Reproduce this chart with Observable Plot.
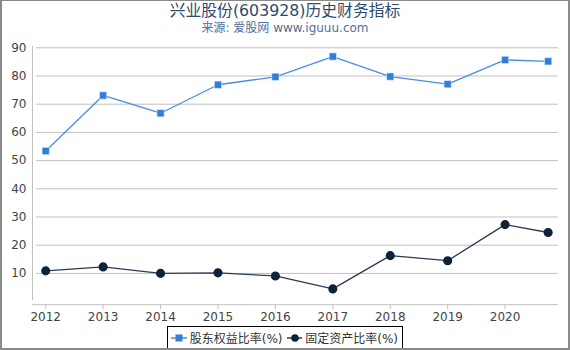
<!DOCTYPE html>
<html><head><meta charset="utf-8">
<script src="https://cdn.jsdelivr.net/npm/d3@7"></script>
<script src="https://cdn.jsdelivr.net/npm/@observablehq/plot@0.6"></script>
<style>
body{margin:0;width:570px;height:350px;position:relative;overflow:hidden;background:#fff;font-family:"DejaVu Sans","Noto Sans CJK SC",sans-serif;}
#frame{position:absolute;left:0;top:0;width:570px;height:350px;box-sizing:border-box;border:2px solid #8a8a8a;border-top-width:1px;pointer-events:none;}
#title{position:absolute;top:1px;left:0;width:570px;text-align:center;font-size:15.8px;line-height:20px;color:#2e4a6c;}
#subtitle{position:absolute;top:20px;left:0;width:570px;text-align:center;font-size:12px;line-height:16px;color:#4f709a;}
#chart{position:absolute;top:40px;left:0;}
#legend{position:absolute;top:326px;left:167px;width:236px;height:23px;box-sizing:border-box;border:1px solid #000;font-size:12px;color:#333;display:flex;align-items:center;padding-left:3px;white-space:nowrap;}
#legend svg{margin-right:3px;}
#legend span{margin-right:4px;}
</style>
</head><body>
<div id="title">兴业股份(603928)历史财务指标</div>
<div id="subtitle">来源: 爱股网 www.iguuu.com</div>
<div id="chart"></div>
<div id="legend"></div>
<div id="frame"></div>
<script>
const years = [2012, 2013, 2014, 2015, 2016, 2017, 2018, 2019, 2020, 2020.75];
const equityRatio = [53.4, 73.1, 66.8, 76.9, 79.7, 86.9, 79.8, 77.1, 85.7, 85.2];
const fixedAssetRatio = [10.9, 12.3, 10.0, 10.2, 9.1, 4.5, 16.3, 14.5, 27.3, 24.5];
const xTicks = [2012, 2013, 2014, 2015, 2016, 2017, 2018, 2019, 2020];
const yTicks = [10, 20, 30, 40, 50, 60, 70, 80, 90];
const seriesNames = ["股东权益比率(%)", "固定资产比率(%)"];
const colors = ["#2f7ed8", "#0d233a"];

const eq = years.map((x, i) => ({x, y: equityRatio[i]}));
const fa = years.map((x, i) => ({x, y: fixedAssetRatio[i]}));

const xDomain = [2011.77, 2020.93];
const plot = Plot.plot({
  width: 570, height: 285,
  marginLeft: 32, marginRight: 12, marginTop: 7.3, marginBottom: 20.8,
  style: {fontFamily: "DejaVu Sans, sans-serif", background: "transparent"},
  x: {domain: xDomain},
  y: {domain: [-1.1, 90]},
  marks: [
    Plot.ruleY(yTicks, {x1: 2011.84, x2: xDomain[1], stroke: "#c0c0c0", strokeWidth: 1}),
    Plot.ruleY([-1.1], {stroke: "#c0c0c0", strokeWidth: 1}),
    Plot.ruleX([xDomain[0]], {y1: 0.3, y2: 90.4, stroke: "#c0c0c0", strokeWidth: 1}),
    Plot.axisY(yTicks, {tickSize: 0, tickPadding: 6, fontSize: 12, fill: "#444", label: null}),
    Plot.axisX(xTicks, {tickSize: 5, tickPadding: 3, fontSize: 12, fill: "#444", stroke: "#c0c0c0", tickFormat: "d", label: null}),
    Plot.line(eq, {x: "x", y: "y", stroke: "#4a8ee0", strokeWidth: 1.3}),
    Plot.dot(eq, {x: "x", y: "y", symbol: "square", r: 4.1, fill: colors[0], stroke: "#e8f0fb", strokeWidth: 0.6}),
    Plot.line(fa, {x: "x", y: "y", stroke: "#2a3b52", strokeWidth: 1.3}),
    Plot.dot(fa, {x: "x", y: "y", symbol: "circle", r: 3.8, fill: colors[1], stroke: "#0d233a"})
  ]
});
document.getElementById("chart").appendChild(plot);

const legend = document.getElementById("legend");
seriesNames.forEach((name, i) => {
  const sym = i === 0
    ? `<rect x="4.5" y="3.5" width="7" height="7" fill="${colors[0]}"/>`
    : `<circle cx="8" cy="7" r="3.8" fill="${colors[1]}"/>`;
  legend.insertAdjacentHTML("beforeend",
    `<svg width="16" height="14"><line x1="0" x2="16" y1="7" y2="7" stroke="${i===0?'#4a8ee0':'#2a3b52'}" stroke-width="1.5"/>${sym}</svg><span>${name}</span>`);
});
</script>
</body></html>
